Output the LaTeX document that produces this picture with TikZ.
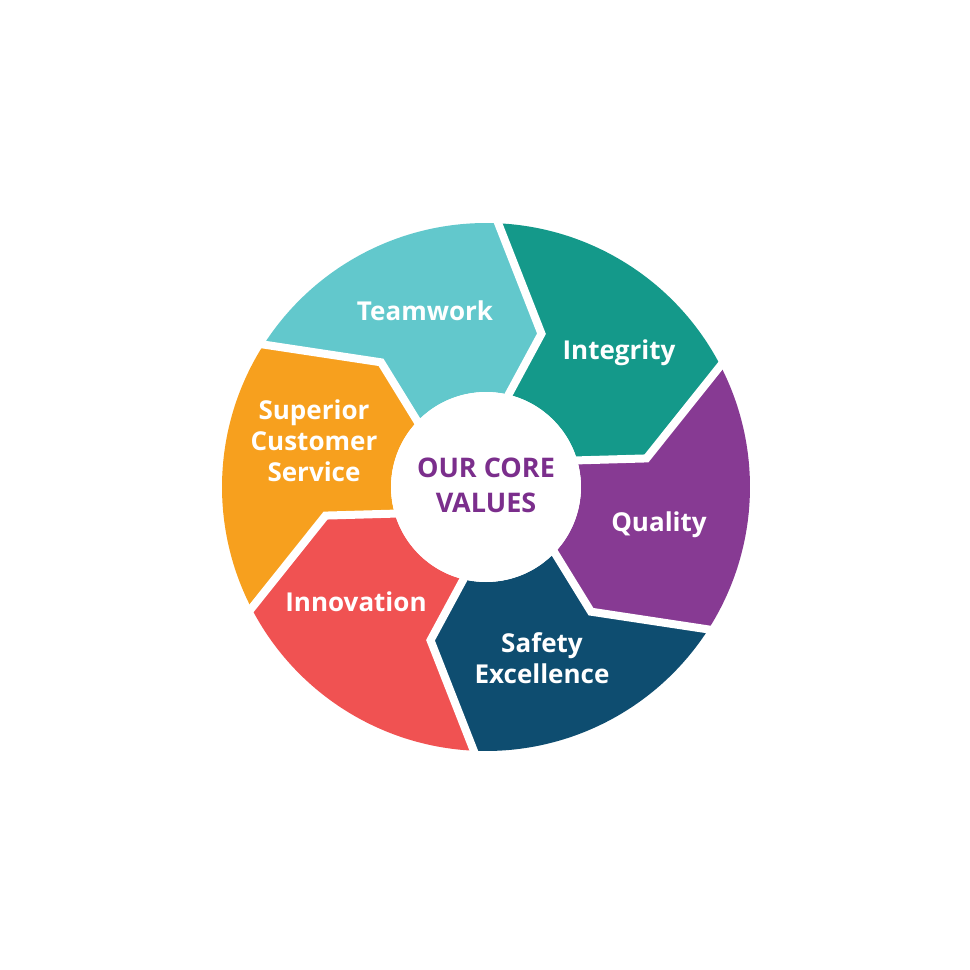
\documentclass[tikz,border=0pt]{standalone}
\usepackage{fontspec}
\setsansfont{Open Sans}
\usepackage{tikz}

\definecolor{teamcol}{HTML}{62C8CC}
\definecolor{integcol}{HTML}{14998A}
\definecolor{qualcol}{HTML}{873A93}
\definecolor{safecol}{HTML}{0E4D70}
\definecolor{innocol}{HTML}{F05252}
\definecolor{supcol}{HTML}{F7A01E}
\definecolor{corecol}{HTML}{7B2E8C}

\begin{document}
\begin{tikzpicture}[x=1pt, y=1pt]
        \tikzstyle{every node}=[font=\sffamily\bfseries\fontsize{26}{31}\selectfont, align=center]
        \tikzstyle{label}=[text=white]
        \tikzstyle{gap}=[white, line width=8pt, line join=miter]

        \useasboundingbox (-486,-483) rectangle (484,487);

        % Segments (outer arc, kink, inner arc, kink)
        \fill[integcol] (28.1:264pt) arc[start angle=28.1, end angle=88.1, radius=264pt]
            -- (70.1:163pt) -- (77.1:95pt) arc[start angle=77.1, end angle=17.1, radius=95pt]
            -- (10.1:163pt) -- cycle;
        \fill[teamcol] (88.1:264pt) arc[start angle=88.1, end angle=148.1, radius=264pt]
            -- (130.1:163pt) -- (137.1:95pt) arc[start angle=137.1, end angle=77.1, radius=95pt]
            -- (70.1:163pt) -- cycle;
        \fill[supcol] (148.1:264pt) arc[start angle=148.1, end angle=208.1, radius=264pt]
            -- (190.1:163pt) -- (197.1:95pt) arc[start angle=197.1, end angle=137.1, radius=95pt]
            -- (130.1:163pt) -- cycle;
        \fill[innocol] (208.1:264pt) arc[start angle=208.1, end angle=268.1, radius=264pt]
            -- (250.1:163pt) -- (257.1:95pt) arc[start angle=257.1, end angle=197.1, radius=95pt]
            -- (190.1:163pt) -- cycle;
        \fill[safecol] (268.1:264pt) arc[start angle=268.1, end angle=328.1, radius=264pt]
            -- (310.1:163pt) -- (317.1:95pt) arc[start angle=317.1, end angle=257.1, radius=95pt]
            -- (250.1:163pt) -- cycle;
        \fill[qualcol] (328.1:264pt) arc[start angle=328.1, end angle=388.1, radius=264pt]
            -- (370.1:163pt) -- (377.1:95pt) arc[start angle=377.1, end angle=317.1, radius=95pt]
            -- (310.1:163pt) -- cycle;

        % White gaps between segments
        \draw[gap] (88.1:272pt) -- (70.1:163pt) -- (77.1:90pt);
        \draw[gap] (28.1:272pt) -- (10.1:163pt) -- (17.1:90pt);
        \draw[gap] (-31.9:272pt) -- (-49.9:163pt) -- (-42.9:90pt);
        \draw[gap] (-91.9:272pt) -- (-109.9:163pt) -- (-102.9:90pt);
        \draw[gap] (-151.9:272pt) -- (-169.9:163pt) -- (-162.9:90pt);
        \draw[gap] (148.1:272pt) -- (130.1:163pt) -- (137.1:90pt);

        % Hub
        \fill[white] (0,0) circle (95pt);
        \node[text=corecol, font=\sffamily\bfseries\fontsize{27}{35}\selectfont] (core) at (0,2) {OUR CORE\\VALUES};

        % Labels
        \node[label] (teamwork) at (-61,176) {Teamwork};
        \node[label] (integrity) at (133,134) {Integrity};
        \node[label] (quality) at (173,-38) {Quality};
        \node[label] (safety) at (56,-171) {Safety\\Excellence};
        \node[label] (innovation) at (-130,-115) {Innovation};
        \node[label] (superior) at (-172,46) {Superior\\Customer\\Service};
\end{tikzpicture}
\end{document}
